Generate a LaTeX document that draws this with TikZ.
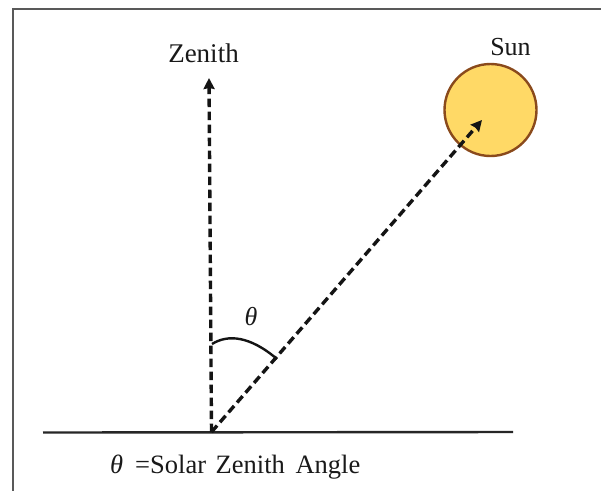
\documentclass[tikz,border=0pt]{standalone}
\usepackage{fontspec}
\setmainfont{Liberation Serif}
\usetikzlibrary{arrows.meta}
\definecolor{sunfill}{HTML}{FFD966}
\definecolor{sunedge}{HTML}{8A4A1C}
\tikzset{
  ray/.style={line width=3.4pt,dash pattern=on 8.5pt off 4.5pt,-{Stealth[length=11pt,width=11pt,inset=1pt]},black!92},
  ground/.style={line width=2.4pt,black!85},
  frameline/.style={line width=2pt,black!65},
  lab/.style={inner sep=0pt,text=black!90}
}
\begin{document}
\begin{tikzpicture}[x=1pt,y=-1pt]
\useasboundingbox (0,0) rectangle (601,491);
\fill[white] (0,0) rectangle (601,491);
\draw[frameline] (601,9) -- (12.5,9) -- (12.5,491);
\node[circle,draw=sunedge,line width=2.4pt,fill=sunfill,minimum size=92pt,inner sep=0pt] (sun) at (490.5,110) {};
\coordinate (foot) at (211.5,432);
\coordinate (zen) at (209,78);
\coordinate (tip) at (482,120);
\coordinate (gl) at (43,432.5);
\coordinate (gr) at (513,432);
\draw[ground] (gl) -- (gr);
\draw[ray] (foot) -- (zen);
\draw[ray] (foot) -- (tip);
\coordinate (a1) at (212,344);
\coordinate (a2) at (277,359);
\draw[line width=2.4pt,black!92] (a1) .. controls (228,334) and (250,336) .. (a2);
\node[lab,font=\fontsize{27}{30}\selectfont] (zl) at (203.5,53) {Zenith};
\node[lab,font=\fontsize{26}{30}\selectfont] (sl) at (510.5,47) {Sun};
\node[lab,font=\fontsize{26}{30}\selectfont\itshape] (th) at (251,317) {θ};
\node[lab,font=\fontsize{26.5}{30}\selectfont,anchor=base west] (cap) at (110,473) {\textit{θ}\hspace{12pt}=Solar\hspace{3pt} Zenith\hspace{4pt} Angle};
\end{tikzpicture}
\end{document}
